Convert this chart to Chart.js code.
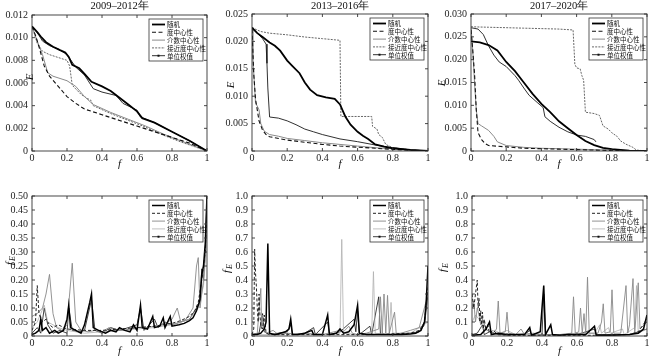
<!DOCTYPE html>
<html><head><meta charset="utf-8">
<script src="https://cdn.jsdelivr.net/npm/chart.js@4/dist/chart.umd.min.js"></script>
<style>
html,body{margin:0;padding:0;background:#fff;}
#wrap{position:relative;width:650px;height:357px;overflow:hidden;background:#fff;}
canvas{position:absolute;}
</style></head><body><div id="wrap">
<canvas id="c1" width="215" height="170" style="left:0;top:0"></canvas>
<canvas id="c2" width="215" height="170" style="left:215px;top:0"></canvas>
<canvas id="c3" width="220" height="170" style="left:430px;top:0"></canvas>
<canvas id="c4" width="215" height="187" style="left:0;top:170px"></canvas>
<canvas id="c5" width="215" height="187" style="left:215px;top:170px"></canvas>
<canvas id="c6" width="220" height="187" style="left:430px;top:170px"></canvas>
</div>
<script>
// ---------- labels ----------
const seriesNames = ['随机','度中心性','介数中心性','接近度中心性','单位权值'];
const periodTitles = ['2009–2012年','2013–2016年','2017–2020年'];
const xTickVals = [0,0.2,0.4,0.6,0.8,1];
const xTickLabels = ['0','0.2','0.4','0.6','0.8','1'];
const yTickValsA = [0,0.002,0.004,0.006,0.008,0.010,0.012];
const yTickLabelsA = ['0','0.002','0.004','0.006','0.008','0.010','0.012'];
const yTickValsB = [0,0.005,0.010,0.015,0.020,0.025];
const yTickLabelsB = ['0','0.005','0.010','0.015','0.020','0.025'];
const yTickValsC = [0,0.005,0.010,0.015,0.020,0.025,0.030];
const yTickLabelsC = ['0','0.005','0.010','0.015','0.020','0.025','0.030'];
const yTickValsD = [0,0.05,0.10,0.15,0.20,0.25,0.30,0.35,0.40,0.45,0.50];
const yTickLabelsD = ['0','0.05','0.10','0.15','0.20','0.25','0.30','0.35','0.40','0.45','0.50'];
const yTickValsE = [0,0.1,0.2,0.3,0.4,0.5,0.6,0.7,0.8,0.9,1.0];
const yTickLabelsE = ['0','0.1','0.2','0.3','0.4','0.5','0.6','0.7','0.8','0.9','1.0'];

// ---------- 2009-2012 E(f) ----------
const A_random = [[0,0.011],[0.03,0.0105],[0.05,0.0101],[0.08,0.0096],[0.12,0.0092],[0.16,0.0089],[0.19,0.0087],[0.21,0.0083],[0.23,0.0076],[0.27,0.0073],[0.3,0.0068],[0.34,0.0061],[0.4,0.0057],[0.45,0.0053],[0.5,0.0047],[0.55,0.0041],[0.6,0.0035],[0.63,0.0029],[0.7,0.0025],[0.8,0.0017],[0.9,0.0009],[1,0]];
const A_degree = [[0,0.011],[0.02,0.0102],[0.04,0.0092],[0.07,0.0075],[0.1,0.0066],[0.15,0.0057],[0.2,0.0048],[0.25,0.0042],[0.3,0.0037],[0.4,0.0032],[0.5,0.0027],[0.6,0.0022],[0.7,0.0017],[0.8,0.0012],[0.9,0.0007],[1,0]];
const A_betw = [[0,0.011],[0.03,0.0097],[0.06,0.0085],[0.09,0.0069],[0.12,0.0066],[0.2,0.0062],[0.25,0.0057],[0.3,0.0048],[0.35,0.0041],[0.45,0.0034],[0.55,0.0028],[0.65,0.0022],[0.75,0.0015],[0.85,0.0009],[1,0]];
const A_close = [[0,0.011],[0.03,0.0095],[0.06,0.0088],[0.1,0.0085],[0.2,0.008],[0.215,0.0075],[0.23,0.0058],[0.28,0.005],[0.32,0.0046],[0.335,0.0045],[0.35,0.004],[0.45,0.0033],[0.55,0.0027],[0.65,0.0021],[0.75,0.0014],[0.85,0.0008],[1,0]];
const A_unit = [[0,0.011],[0.04,0.0102],[0.06,0.0097],[0.1,0.0093],[0.15,0.009],[0.2,0.0085],[0.25,0.0074],[0.3,0.0067],[0.35,0.0055],[0.4,0.0052],[0.48,0.0049],[0.52,0.0042],[0.6,0.0036],[0.62,0.003],[0.7,0.0025],[0.8,0.0017],[0.9,0.0009],[1,0]];

// ---------- 2013-2016 E(f) ----------
const B_random = [[0,0.0225],[0.03,0.0215],[0.06,0.0208],[0.1,0.0198],[0.13,0.0192],[0.16,0.0183],[0.2,0.0165],[0.23,0.0155],[0.27,0.0142],[0.3,0.0125],[0.33,0.0112],[0.37,0.0102],[0.42,0.0098],[0.47,0.0095],[0.5,0.0085],[0.53,0.0063],[0.56,0.0048],[0.6,0.0035],[0.63,0.0028],[0.66,0.0022],[0.7,0.0012],[0.75,0.0008],[0.8,0.0005],[0.9,0.0002],[1,0]];
const B_degree = [[0,0.0222],[0.01,0.014],[0.02,0.0095],[0.04,0.0055],[0.06,0.0038],[0.08,0.003],[0.1,0.0026],[0.2,0.002],[0.3,0.0016],[0.4,0.0012],[0.5,0.0009],[0.6,0.0007],[0.7,0.0005],[0.8,0.0003],[0.9,0.0001],[1,0]];
const B_betw = [[0,0.0225],[0.005,0.017],[0.015,0.0115],[0.02,0.0087],[0.03,0.0082],[0.04,0.0075],[0.05,0.005],[0.07,0.0036],[0.1,0.003],[0.15,0.0027],[0.2,0.0023],[0.3,0.0019],[0.4,0.0015],[0.5,0.0012],[0.6,0.0009],[0.7,0.0006],[0.8,0.0004],[0.9,0.0002],[1,0]];
const B_close = [[0,0.0225],[0.05,0.0218],[0.1,0.0215],[0.2,0.0212],[0.3,0.0208],[0.4,0.0205],[0.5,0.0202],[0.505,0.0063],[0.68,0.0063],[0.685,0.0045],[0.71,0.004],[0.72,0.003],[0.74,0.0025],[0.76,0.0012],[0.8,0.0006],[0.9,0.0002],[1,0]];
const B_unit = [[0,0.0225],[0.03,0.0215],[0.06,0.0205],[0.08,0.0195],[0.085,0.016],[0.09,0.0115],[0.1,0.0062],[0.15,0.006],[0.2,0.0055],[0.25,0.0048],[0.3,0.004],[0.35,0.0035],[0.4,0.003],[0.5,0.0022],[0.6,0.0017],[0.7,0.0011],[0.8,0.0006],[0.9,0.0002],[1,0]];

// ---------- 2017-2020 E(f) ----------
const C_random = [[0,0.024],[0.05,0.0238],[0.1,0.0232],[0.15,0.022],[0.2,0.0195],[0.25,0.0175],[0.3,0.015],[0.35,0.0125],[0.4,0.0103],[0.45,0.0085],[0.5,0.0065],[0.55,0.005],[0.6,0.0035],[0.65,0.0022],[0.7,0.0013],[0.75,0.0007],[0.8,0.0004],[0.9,0.0001],[1,0]];
const C_degree = [[0,0.0265],[0.01,0.022],[0.02,0.017],[0.03,0.009],[0.04,0.004],[0.06,0.0025],[0.08,0.0016],[0.1,0.0012],[0.2,0.0009],[0.3,0.0006],[0.4,0.0005],[0.5,0.0004],[0.6,0.0003],[0.7,0.0002],[0.8,0.0001],[1,0]];
const C_betw = [[0,0.0272],[0.01,0.022],[0.02,0.015],[0.03,0.009],[0.04,0.006],[0.06,0.0055],[0.1,0.0045],[0.13,0.0032],[0.15,0.002],[0.2,0.0012],[0.3,0.0008],[0.4,0.0006],[0.5,0.0005],[0.6,0.0004],[0.7,0.0003],[0.8,0.0002],[0.9,0.0001],[1,0]];
const C_close = [[0,0.0272],[0.1,0.0271],[0.2,0.027],[0.3,0.0269],[0.4,0.0268],[0.5,0.0267],[0.58,0.0265],[0.59,0.019],[0.6,0.0182],[0.62,0.018],[0.63,0.0165],[0.64,0.0155],[0.65,0.0085],[0.7,0.0082],[0.73,0.0078],[0.75,0.0055],[0.78,0.0048],[0.8,0.004],[0.83,0.0032],[0.85,0.0022],[0.88,0.0015],[0.92,0.0008],[0.94,0.0002],[1,0]];
const C_unit = [[0,0.027],[0.04,0.0267],[0.07,0.0255],[0.1,0.023],[0.13,0.021],[0.16,0.0195],[0.2,0.0185],[0.25,0.0165],[0.27,0.0155],[0.3,0.0138],[0.33,0.0122],[0.38,0.0105],[0.41,0.0095],[0.42,0.0075],[0.45,0.0065],[0.5,0.0052],[0.55,0.0042],[0.6,0.0035],[0.65,0.0032],[0.7,0.0025],[0.71,0.002]];

// ---------- 2009-2012 fE ----------
const D_random = [[0,0.005],[0.02,0.01],[0.04,0.02],[0.05,0.06],[0.06,0.02],[0.08,0.03],[0.1,0.01],[0.13,0.02],[0.15,0.01],[0.18,0.02],[0.2,0.06],[0.21,0.11],[0.22,0.03],[0.25,0.02],[0.28,0.01],[0.3,0.04],[0.33,0.12],[0.34,0.15],[0.35,0.03],[0.38,0.02],[0.42,0.01],[0.45,0.02],[0.48,0.015],[0.5,0.03],[0.53,0.02],[0.56,0.015],[0.58,0.04],[0.6,0.02],[0.62,0.11],[0.63,0.03],[0.66,0.025],[0.69,0.07],[0.7,0.03],[0.73,0.035],[0.75,0.065],[0.76,0.03],[0.79,0.07],[0.8,0.035],[0.84,0.04],[0.87,0.045],[0.9,0.055],[0.92,0.065],[0.94,0.09],[0.96,0.13],[0.97,0.22],[0.98,0.25],[0.99,0.33],[1,0.5]];
const D_degree = [[0,0.02],[0.02,0.05],[0.03,0.18],[0.04,0.08],[0.06,0.05],[0.08,0.06],[0.1,0.04],[0.12,0.03],[0.15,0.04],[0.2,0.025],[0.3,0.02],[0.4,0.02],[0.5,0.025],[0.6,0.03],[0.7,0.035],[0.8,0.045],[0.85,0.055],[0.9,0.07],[0.93,0.09],[0.95,0.12],[0.97,0.2],[0.99,0.3],[1,0.45]];
const D_betw = [[0,0.07],[0.03,0.08],[0.06,0.1],[0.08,0.15],[0.1,0.22],[0.12,0.08],[0.14,0.03],[0.17,0.02],[0.2,0.04],[0.23,0.26],[0.25,0.05],[0.28,0.02],[0.32,0.015],[0.36,0.02],[0.4,0.015],[0.44,0.03],[0.48,0.02],[0.52,0.02],[0.56,0.025],[0.6,0.03],[0.65,0.03],[0.7,0.035],[0.75,0.04],[0.8,0.06],[0.83,0.1],[0.85,0.05],[0.88,0.06],[0.92,0.1],[0.94,0.25],[0.95,0.28],[0.96,0.1],[0.98,0.2],[1,0.4]];
const D_close = [[0,0.03],[0.03,0.05],[0.05,0.08],[0.07,0.11],[0.09,0.05],[0.12,0.04],[0.15,0.03],[0.2,0.02],[0.25,0.015],[0.3,0.01],[0.4,0.015],[0.5,0.02],[0.6,0.025],[0.7,0.03],[0.8,0.04],[0.9,0.06],[0.95,0.1],[0.98,0.18],[1,0.35]];
const D_unit = [[0,0.01],[0.03,0.03],[0.05,0.01],[0.07,0.1],[0.09,0.04],[0.12,0.01],[0.16,0.02],[0.2,0.01],[0.21,0.1],[0.23,0.02],[0.27,0.015],[0.3,0.02],[0.34,0.13],[0.36,0.02],[0.4,0.01],[0.45,0.03],[0.5,0.02],[0.55,0.03],[0.6,0.04],[0.62,0.1],[0.64,0.02],[0.7,0.06],[0.72,0.03],[0.76,0.05],[0.8,0.04],[0.85,0.05],[0.9,0.06],[0.94,0.1],[0.96,0.12],[0.97,0.24],[0.98,0.2],[0.99,0.3],[1,0.5]];

// ---------- 2013-2016 fE ----------
const E_random = [[0,0.01],[0.03,0.01],[0.05,0.02],[0.07,0.05],[0.08,0.1],[0.09,0.66],[0.1,0.02],[0.13,0.01],[0.16,0.02],[0.19,0.03],[0.21,0.05],[0.22,0.12],[0.23,0.01],[0.26,0.01],[0.3,0.02],[0.34,0.04],[0.35,0.01],[0.4,0.01],[0.43,0.15],[0.44,0.01],[0.48,0.02],[0.5,0.05],[0.52,0.02],[0.55,0.03],[0.58,0.08],[0.6,0.22],[0.61,0.02],[0.65,0.01],[0.7,0.01],[0.75,0.01],[0.8,0.01],[0.85,0.01],[0.9,0.015],[0.93,0.02],[0.96,0.04],[0.98,0.1],[0.99,0.25],[1,0.5]];
const E_degree = [[0,0.01],[0.01,0.05],[0.015,0.62],[0.02,0.45],[0.025,0.35],[0.03,0.2],[0.035,0.1],[0.04,0.3],[0.045,0.15],[0.05,0.08],[0.06,0.05],[0.07,0.15],[0.08,0.02],[0.1,0.01],[0.2,0.01],[0.3,0.01],[0.4,0.01],[0.5,0.01],[0.6,0.01],[0.7,0.01],[0.8,0.015],[0.9,0.02],[0.95,0.04],[0.98,0.1],[1,0.35]];
const E_betw = [[0,0.01],[0.03,0.02],[0.05,0.34],[0.055,0.05],[0.06,0.15],[0.065,0.05],[0.08,0.02],[0.12,0.04],[0.15,0.01],[0.2,0.02],[0.25,0.01],[0.3,0.02],[0.4,0.01],[0.5,0.04],[0.52,0.03],[0.55,0.07],[0.57,0.02],[0.6,0.01],[0.65,0.02],[0.72,0.05],[0.73,0.28],[0.74,0.02],[0.75,0.3],[0.76,0.02],[0.77,0.29],[0.78,0.02],[0.81,0.17],[0.82,0.01],[0.9,0.04],[0.95,0.06],[1,0.3]];
const E_close = [[0,0.01],[0.1,0.01],[0.2,0.02],[0.3,0.01],[0.4,0.01],[0.5,0.02],[0.51,0.69],[0.52,0.02],[0.6,0.01],[0.68,0.02],[0.69,0.46],[0.7,0.02],[0.78,0.01],[0.79,0.24],[0.8,0.02],[0.9,0.02],[1,0.1]];
const E_unit = [[0,0.01],[0.04,0.02],[0.06,0.16],[0.07,0.03],[0.1,0.01],[0.15,0.02],[0.2,0.03],[0.22,0.08],[0.23,0.01],[0.3,0.02],[0.35,0.06],[0.36,0.01],[0.43,0.1],[0.44,0.01],[0.5,0.03],[0.58,0.12],[0.59,0.03],[0.6,0.18],[0.61,0.01],[0.67,0.07],[0.68,0.01],[0.72,0.28],[0.73,0.01],[0.8,0.01],[0.9,0.02],[0.95,0.03],[0.98,0.08],[1,0.3]];

// ---------- 2017-2020 fE ----------
const F_random = [[0,0.005],[0.05,0.01],[0.08,0.05],[0.1,0.1],[0.11,0.01],[0.15,0.02],[0.2,0.01],[0.25,0.01],[0.3,0.01],[0.33,0.06],[0.34,0.005],[0.39,0.03],[0.4,0.2],[0.41,0.36],[0.42,0.01],[0.45,0.08],[0.46,0.01],[0.5,0.005],[0.55,0.01],[0.6,0.01],[0.65,0.01],[0.7,0.07],[0.71,0.005],[0.8,0.005],[0.9,0.01],[0.95,0.02],[0.98,0.05],[1,0.15]];
const F_degree = [[0,0.3],[0.01,0.2],[0.02,0.3],[0.03,0.4],[0.035,0.2],[0.04,0.27],[0.045,0.1],[0.05,0.18],[0.055,0.08],[0.06,0.17],[0.065,0.05],[0.07,0.12],[0.08,0.04],[0.09,0.08],[0.1,0.02],[0.12,0.04],[0.15,0.01],[0.2,0.005],[0.3,0.005],[0.5,0.005],[0.7,0.005],[0.9,0.01],[0.95,0.03],[1,0.12]];
const F_betw = [[0,0.2],[0.01,0.25],[0.02,0.1],[0.03,0.2],[0.04,0.15],[0.05,0.08],[0.06,0.12],[0.08,0.05],[0.1,0.03],[0.12,0.02],[0.14,0.05],[0.15,0.25],[0.16,0.02],[0.19,0.03],[0.2,0.17],[0.21,0.02],[0.25,0.01],[0.28,0.05],[0.3,0.01],[0.35,0.02],[0.4,0.01],[0.5,0.01],[0.57,0.02],[0.58,0.28],[0.59,0.02],[0.61,0.03],[0.62,0.2],[0.63,0.02],[0.64,0.16],[0.65,0.02],[0.66,0.42],[0.67,0.02],[0.72,0.02],[0.74,0.1],[0.75,0.23],[0.76,0.02],[0.79,0.03],[0.8,0.33],[0.81,0.02],[0.85,0.02],[0.88,0.36],[0.89,0.02],[0.9,0.08],[0.92,0.41],[0.93,0.02],[0.95,0.38],[0.96,0.05],[1,0.1]];
const F_close = [[0,0.1],[0.02,0.15],[0.04,0.12],[0.06,0.06],[0.1,0.03],[0.13,0.04],[0.16,0.02],[0.2,0.04],[0.25,0.01],[0.3,0.02],[0.4,0.01],[0.5,0.01],[0.6,0.02],[0.7,0.02],[0.73,0.08],[0.74,0.02],[0.78,0.06],[0.79,0.02],[0.86,0.05],[0.87,0.01],[0.93,0.06],[0.94,0.36],[0.95,0.02],[1,0.05]];
const F_unit = [[0,0.01],[0.03,0.02],[0.06,0.08],[0.07,0.01],[0.1,0.03],[0.15,0.01],[0.2,0.01],[0.3,0.01],[0.33,0.04],[0.34,0.005],[0.4,0.01],[0.41,0.3],[0.42,0.01],[0.5,0.01],[0.6,0.01],[0.7,0.05],[0.71,0.01],[0.8,0.01],[0.9,0.01],[1,0.05]];

// ---------- styles ----------
const topStyles = [
  {borderColor:'#000', borderWidth:1.8, borderDash:[]},
  {borderColor:'#111', borderWidth:1.1, borderDash:[4,2.5]},
  {borderColor:'#8a8a8a', borderWidth:1, borderDash:[]},
  {borderColor:'#666', borderWidth:1, borderDash:[2,1.2]},
  {borderColor:'#1a1a1a', borderWidth:0.9, borderDash:[]}
];
const botStyles = [
  {borderColor:'#000', borderWidth:1.5, borderDash:[]},
  {borderColor:'#222', borderWidth:1, borderDash:[3,2]},
  {borderColor:'#888', borderWidth:0.9, borderDash:[]},
  {borderColor:'#b0b0b0', borderWidth:0.8, borderDash:[]},
  {borderColor:'#111', borderWidth:0.8, borderDash:[]}
];

const SERIF = '"Liberation Serif","DejaVu Serif",serif';
const CJK = '"Noto Sans CJK SC","Noto Sans",sans-serif';

const frame = {
  id:'frame',
  afterDatasetsDraw(chart, args, o){
    const ctx = chart.ctx, a = chart.chartArea;
    const xs = chart.scales.x, ys = chart.scales.y;
    ctx.save();
    ctx.strokeStyle = '#333'; ctx.lineWidth = 0.9; ctx.setLineDash([]);
    ctx.strokeRect(a.left, a.top, a.right - a.left, a.bottom - a.top);
    ctx.beginPath();
    xs.ticks.forEach(t => {
      const px = xs.getPixelForValue(t.value);
      ctx.moveTo(px, a.bottom); ctx.lineTo(px, a.bottom - 3);
      ctx.moveTo(px, a.top); ctx.lineTo(px, a.top + 3);
    });
    ys.ticks.forEach(t => {
      const py = ys.getPixelForValue(t.value);
      ctx.moveTo(a.left, py); ctx.lineTo(a.left + 3, py);
      ctx.moveTo(a.right, py); ctx.lineTo(a.right - 3, py);
    });
    ctx.stroke();
    // x tick labels
    ctx.fillStyle = '#222'; ctx.font = '10px ' + SERIF; ctx.textAlign = 'center'; ctx.textBaseline = 'middle';
    xTickVals.forEach((v, i) => ctx.fillText(xTickLabels[i], xs.getPixelForValue(v), a.bottom + 7));
    // legend
    const w = 54, h = 42, lx = a.right - w - 4, ly = a.top + 4;
    ctx.fillStyle = '#fff'; ctx.fillRect(lx, ly, w, h);
    ctx.strokeStyle = '#333'; ctx.lineWidth = 0.8; ctx.strokeRect(lx, ly, w, h);
    chart.data.datasets.forEach((ds, i) => {
      const yy = ly + 5.5 + i * 7.8;
      ctx.beginPath(); ctx.setLineDash(ds.borderDash || []);
      ctx.strokeStyle = ds.borderColor; ctx.lineWidth = ds.borderWidth;
      ctx.moveTo(lx + 3, yy); ctx.lineTo(lx + 16, yy); ctx.stroke();
      ctx.setLineDash([]);
      if (i === 4) { ctx.fillStyle = '#111'; ctx.fillRect(lx + 8.5, yy - 1, 2, 2); }
      ctx.fillStyle = '#111'; ctx.font = '6.5px ' + CJK; ctx.textBaseline = 'middle'; ctx.textAlign = 'left';
      ctx.fillText(ds.label, lx + 18, yy + 0.5);
    });
    // titles
    ctx.fillStyle = '#111'; ctx.textAlign = 'center'; ctx.textBaseline = 'middle';
    if (o.title) { ctx.font = '10.5px ' + SERIF; ctx.fillText(o.title, (a.left + a.right) / 2, o.titleY); }
    ctx.font = 'italic 11px ' + SERIF;
    ctx.fillText('f', (a.left + a.right) / 2, o.fY);
    ctx.save();
    ctx.translate(o.yLabX, o.yLabY); ctx.rotate(-Math.PI / 2);
    if (o.sub) {
      ctx.textAlign = 'left';
      ctx.font = 'italic 11px ' + SERIF; ctx.fillText('f', -5, 0);
      ctx.font = 'italic 8px ' + SERIF; ctx.fillText('E', -1, 3);
    } else {
      ctx.font = 'italic 11px ' + SERIF; ctx.fillText('E', 0, 0);
    }
    ctx.restore();
    ctx.restore();
  }
};

function toPts(arr){ return arr.map(p => ({x:p[0], y:p[1]})); }

function makePanel(id, series, styles, yVals, yLabels, ymax, lay, o){
  const datasets = series.map((s, i) => Object.assign({
    label: seriesNames[i], data: toPts(s), pointRadius: 0, fill: false, tension: 0
  }, styles[i]));
  new Chart(document.getElementById(id), {
    type: 'line',
    data: { datasets: datasets },
    options: {
      responsive: false, animation: false,
      layout: { padding: { top: lay.T, right: lay.R, left: 0, bottom: 0 } },
      plugins: { legend: { display: false }, tooltip: { enabled: false }, frame: o },
      scales: {
        x: {
          type: 'linear', min: 0, max: 1,
          afterBuildTicks: s => { s.ticks = xTickVals.map(v => ({value: v})); },
          afterFit: s => { s.height = lay.B; },
          grid: { display: false, drawTicks: false }, border: { display: false },
          ticks: { display: false }
        },
        y: {
          type: 'linear', min: 0, max: ymax,
          afterBuildTicks: s => { s.ticks = yVals.map(v => ({value: v})); },
          afterFit: s => { s.width = lay.L; },
          grid: { display: false, drawTicks: false }, border: { display: false },
          ticks: { padding: 4, color: '#222', font: { family: SERIF, size: 10 }, autoSkip: false,
            callback: (v, i) => yLabels[i] }
        }
      }
    },
    plugins: [frame]
  });
}

makePanel('c1', [A_random, A_degree, A_betw, A_close, A_unit], topStyles, yTickValsA, yTickLabelsA, 0.012,
  {L:32, R:8, T:15, B:19}, {title: periodTitles[0], titleY: 6, fY: 164, yLabX: 30, yLabY: 77, sub: false});
makePanel('c2', [B_random, B_degree, B_betw, B_close, B_unit], topStyles, yTickValsB, yTickLabelsB, 0.025,
  {L:37, R:2, T:14, B:19}, {title: periodTitles[1], titleY: 6, fY: 164, yLabX: 16, yLabY: 85, sub: false});
makePanel('c3', [C_random, C_degree, C_betw, C_close, C_unit], topStyles, yTickValsC, yTickLabelsC, 0.030,
  {L:41, R:3, T:14, B:19}, {title: periodTitles[2], titleY: 6, fY: 164, yLabX: 12, yLabY: 83, sub: false});
makePanel('c4', [D_random, D_degree, D_betw, D_close, D_unit], botStyles, yTickValsD, yTickLabelsD, 0.5,
  {L:32, R:8, T:26, B:21}, {title: '', fY: 181, yLabX: 10, yLabY: 90, sub: true});
makePanel('c5', [E_random, E_degree, E_betw, E_close, E_unit], botStyles, yTickValsE, yTickLabelsE, 1.0,
  {L:37, R:2, T:26, B:21}, {title: '', fY: 181, yLabX: 12, yLabY: 98, sub: true});
makePanel('c6', [F_random, F_degree, F_betw, F_close, F_unit], botStyles, yTickValsE, yTickLabelsE, 1.0,
  {L:42, R:3, T:26, B:21}, {title: '', fY: 181, yLabX: 13, yLabY: 97, sub: true});
</script></body></html>
